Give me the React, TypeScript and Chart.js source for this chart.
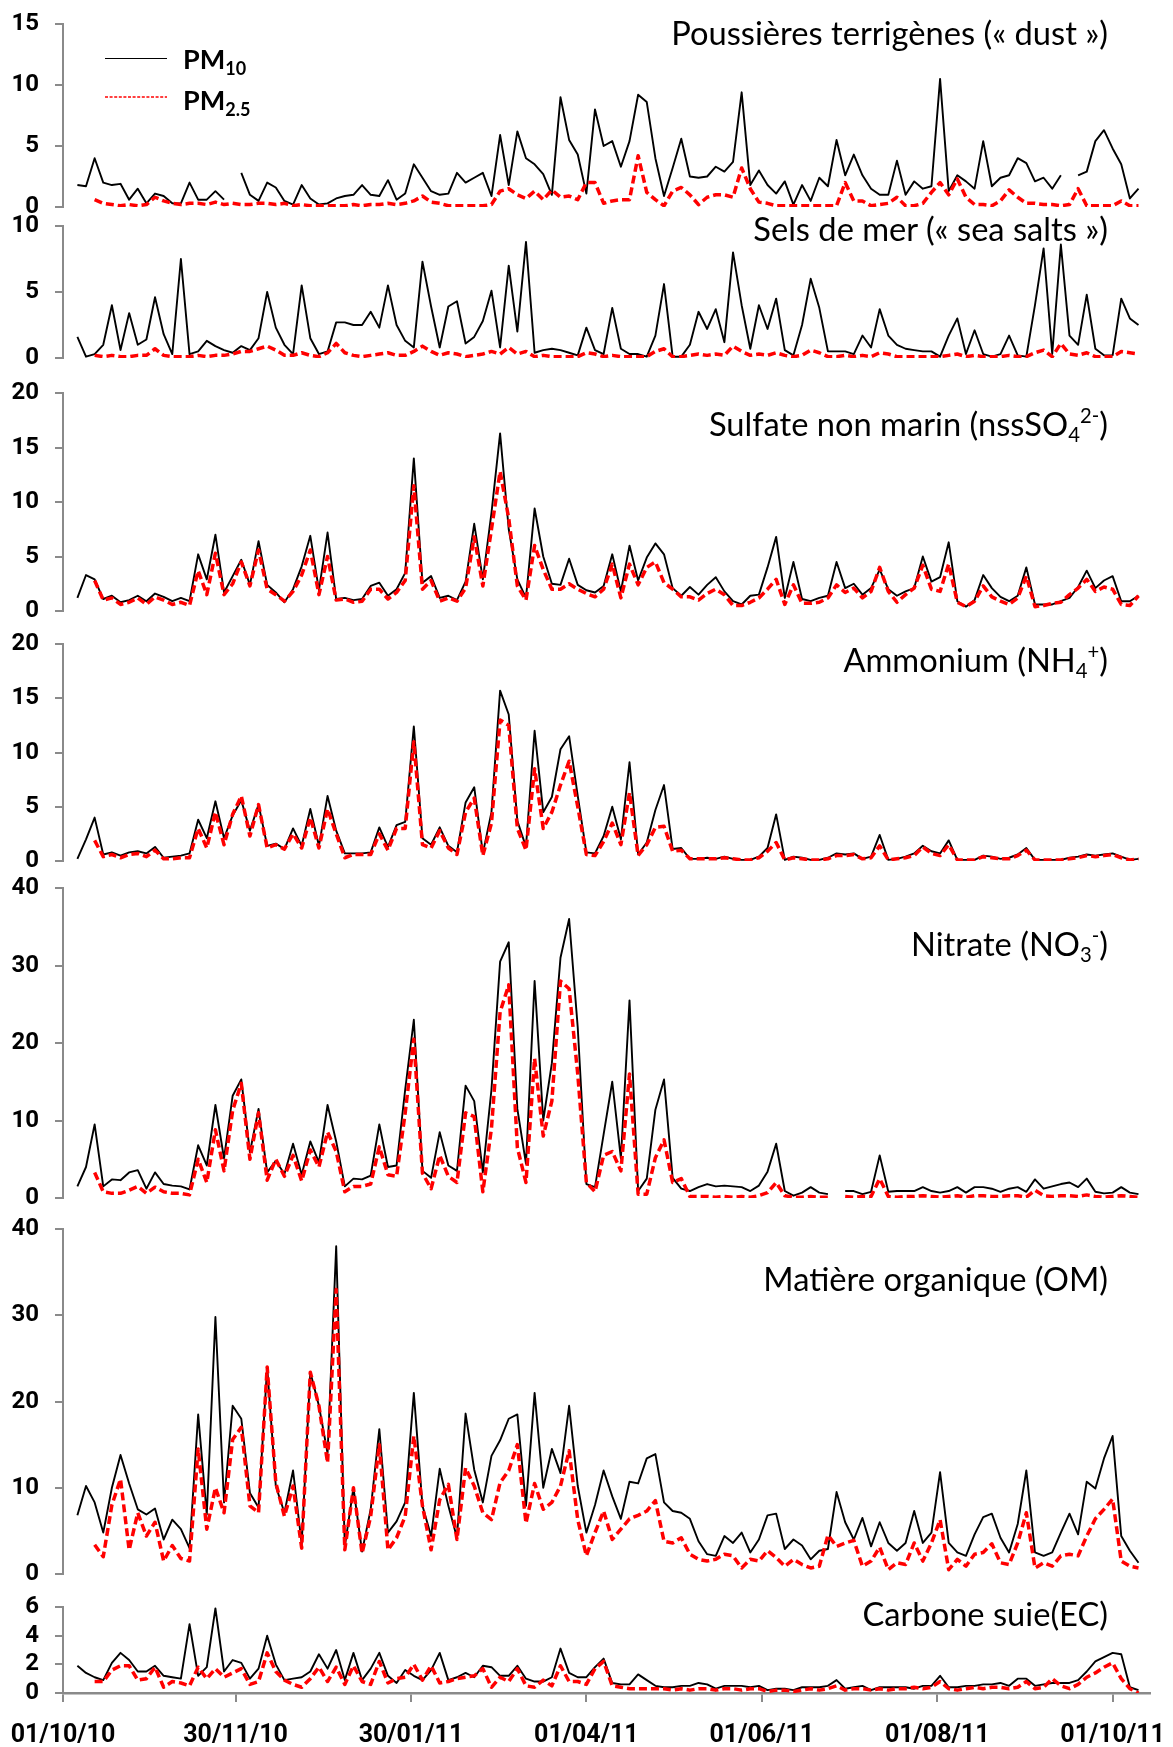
import React, { useEffect, useMemo, useRef } from 'react';
import { Chart, registerables } from 'chart.js';

Chart.register(...registerables);

// Day offsets from 01/10/2010
const DAYS = [
  5, 8, 11, 14, 17, 20, 23, 26, 29, 32,
  35, 38, 41, 44, 47, 50, 53, 56, 59, 62,
  65, 68, 71, 74, 77, 80, 83, 86, 89, 92,
  95, 98, 101, 104, 107, 110, 113, 116, 119, 122,
  125, 128, 131, 134, 137, 140, 143, 146, 149, 152,
  155, 158, 161, 164, 167, 170, 173, 176, 179, 182,
  185, 188, 191, 194, 197, 200, 203, 206, 209, 212,
  215, 218, 221, 224, 227, 230, 233, 236, 239, 242,
  245, 248, 251, 254, 257, 260, 263, 266, 269, 272,
  275, 278, 281, 284, 287, 290, 293, 296, 299, 302,
  305, 308, 311, 314, 317, 320, 323, 326, 329, 332,
  335, 338, 341, 344, 347, 350, 353, 356, 359, 362,
  365, 368, 371, 374,
];

const TICK_DAYS = [0, 60, 121, 182, 243, 304, 365];
const TICK_LABELS = ['01/10/10', '30/11/10', '30/01/11', '01/04/11', '01/06/11', '01/08/11', '01/10/11'];
const X_MAX = 378;

const DUST_PM10 = [
  1.8, 1.7, 4.0, 2.0, 1.8, 1.9, 0.6, 1.5, 0.3, 1.1,
  0.9, 0.3, 0.3, 2.0, 0.6, 0.6, 1.3, 0.6, null, 2.8,
  1.0, 0.5, 2.0, 1.6, 0.5, 0.2, 1.8, 0.7, 0.2, 0.3,
  0.7, 0.9, 1.0, 1.8, 1.0, 0.9, 2.2, 0.6, 1.1, 3.5,
  2.4, 1.3, 1.0, 1.1, 2.8, 2.0, 2.4, 2.8, 0.9, 5.9,
  1.8, 6.2, 4.0, 3.5, 2.7, 1.0, 9.0, 5.5, 4.3, 1.1,
  8.0, 5.0, 5.4, 3.3, 5.4, 9.2, 8.6, 4.0, 0.9, 3.2,
  5.6, 2.5, 2.4, 2.5, 3.3, 2.9, 3.7, 9.4, 1.8, 3.0,
  1.8, 1.1, 2.1, 0.2, 1.8, 0.5, 2.4, 1.7, 5.5, 2.6,
  4.3, 2.6, 1.5, 1.0, 1.0, 3.8, 1.0, 2.1, 1.5, 1.7,
  10.5, 1.3, 2.6, 2.1, 1.5, 5.4, 1.7, 2.4, 2.6, 4.0,
  3.6, 2.1, 2.4, 1.5, 2.6, null, 2.6, 2.9, 5.4, 6.3,
  4.8, 3.5, 0.7, 1.5,
];
const DUST_PM25 = [
  null, null, 0.6, 0.3, 0.2, 0.1, 0.2, 0.1, 0.2, 0.8,
  0.5, 0.3, 0.2, 0.3, 0.3, 0.2, 0.4, 0.2, 0.3, 0.2,
  0.2, 0.3, 0.3, 0.2, 0.3, 0.1, 0.2, 0.1, 0.1, 0.1,
  0.1, 0.1, 0.2, 0.1, 0.2, 0.2, 0.3, 0.2, 0.3, 0.5,
  0.9, 0.4, 0.3, 0.1, 0.1, 0.1, 0.1, 0.1, 0.2, 1.3,
  1.5, 1.0, 0.7, 1.3, 0.6, 1.4, 0.8, 0.9, 0.6, 2.0,
  2.0, 0.3, 0.5, 0.6, 0.6, 4.2, 1.2, 0.6, 0.1, 1.3,
  1.6, 1.0, 0.2, 0.8, 1.0, 1.0, 0.8, 3.2, 1.5, 0.4,
  0.3, 0.1, 0.1, 0.1, 0.1, 0.1, 0.1, 0.1, 0.1, 2.0,
  0.5, 0.5, 0.1, 0.2, 0.3, 0.8, 0.1, 0.1, 0.3, 1.2,
  2.0, 1.0, 2.3, 0.8, 0.2, 0.2, 0.1, 0.5, 1.4, 0.8,
  0.3, 0.3, 0.2, 0.2, 0.1, 0.2, 1.5, 0.1, 0.1, 0.1,
  0.1, 0.5, 0.1, 0.1,
];

const SEA_PM10 = [
  1.6, 0.1, 0.3, 1.0, 4.0, 0.6, 3.4, 1.0, 1.4, 4.6,
  1.8, 0.3, 7.5, 0.3, 0.5, 1.3, 0.9, 0.6, 0.4, 0.9,
  0.6, 1.5, 5.0, 2.3, 1.0, 0.3, 5.5, 1.5, 0.3, 0.5,
  2.7, 2.7, 2.5, 2.5, 3.5, 2.3, 5.5, 2.5, 1.3, 0.8,
  7.3, 3.9, 0.8, 3.9, 4.3, 1.1, 1.6, 2.8, 5.1, 0.8,
  7.0, 2.0, 8.8, 0.4, 0.6, 0.7, 0.6, 0.4, 0.2, 2.3,
  0.6, 0.3, 3.8, 0.7, 0.3, 0.3, 0.1, 1.7, 5.6, 0.1,
  0.1, 1.0, 3.5, 2.2, 3.7, 1.2, 8.0, 4.0, 0.7, 4.0,
  2.2, 4.5, 0.6, 0.2, 2.5, 6.0, 3.8, 0.5, 0.5, 0.5,
  0.3, 1.7, 0.8, 3.7, 1.7, 1.0, 0.7, 0.6, 0.5, 0.5,
  0.1, 1.7, 3.0, 0.3, 2.1, 0.3, 0.1, 0.3, 1.7, 0.2,
  0.1, 4.0, 8.3, 0.3, 8.6, 1.7, 1.0, 4.8, 0.7, 0.2,
  0.2, 4.5, 3.0, 2.5,
];
const SEA_PM25 = [
  null, null, 0.2, 0.1, 0.2, 0.1, 0.1, 0.2, 0.2, 0.7,
  0.2, 0.1, 0.1, 0.1, 0.2, 0.1, 0.2, 0.2, 0.3, 0.5,
  0.5, 0.7, 0.9, 0.6, 0.2, 0.2, 0.4, 0.2, 0.1, 0.4,
  1.1, 0.4, 0.2, 0.1, 0.2, 0.3, 0.4, 0.2, 0.2, 0.5,
  0.9, 0.5, 0.2, 0.4, 0.3, 0.1, 0.2, 0.3, 0.5, 0.3,
  0.8, 0.3, 0.5, 0.1, 0.2, 0.1, 0.1, 0.1, 0.1, 0.4,
  0.3, 0.1, 0.2, 0.1, 0.1, 0.1, 0.1, 0.5, 0.7, 0.1,
  0.1, 0.2, 0.3, 0.2, 0.3, 0.2, 0.9, 0.5, 0.2, 0.3,
  0.2, 0.4, 0.2, 0.1, 0.2, 0.6, 0.4, 0.1, 0.1, 0.2,
  0.1, 0.2, 0.1, 0.4, 0.3, 0.1, 0.1, 0.1, 0.1, 0.1,
  0.1, 0.2, 0.3, 0.1, 0.2, 0.1, 0.1, 0.1, 0.2, 0.1,
  0.1, 0.4, 0.6, 0.1, 1.1, 0.3, 0.2, 0.4, 0.1, 0.1,
  0.1, 0.5, 0.4, 0.3,
];

const SULF_PM10 = [
  1.2, 3.3, 2.9, 1.1, 1.4, 0.8, 1.0, 1.4, 0.9, 1.6,
  1.3, 0.9, 1.2, 0.9, 5.2, 2.9, 7.0, 1.7, 3.2, 4.7,
  2.4, 6.4, 2.4, 1.7, 0.8, 2.0, 4.1, 6.9, 1.9, 7.2,
  1.1, 1.2, 1.0, 1.1, 2.3, 2.6, 1.4, 2.0, 3.5, 14.0,
  2.6, 3.2, 1.2, 1.4, 1.0, 2.7, 8.0, 2.9, 9.0, 16.3,
  7.5, 2.9, 1.2, 9.4, 5.0, 2.5, 2.4, 4.8, 2.4, 1.9,
  1.7, 2.3, 5.2, 1.8, 6.0, 2.8, 4.9, 6.2, 5.2, 2.1,
  1.4, 2.2, 1.5, 2.4, 3.1, 1.8, 0.9, 0.6, 1.4, 1.5,
  4.0, 6.8, 1.2, 4.5, 1.1, 0.9, 1.2, 1.4, 4.5, 2.1,
  2.5, 1.5, 2.1, 3.8, 2.0, 1.4, 1.8, 2.1, 5.0, 2.7,
  3.1, 6.3, 0.9, 0.4, 1.0, 3.3, 2.1, 1.3, 0.9, 1.4,
  4.0, 0.6, 0.6, 0.6, 0.9, 1.2, 2.2, 3.7, 2.1, 2.8,
  3.2, 0.9, 0.9, 1.4,
];
const SULF_PM25 = [
  null, null, 2.8, 1.0, 1.2, 0.6, 0.8, 1.2, 0.6, 1.3,
  1.0, 0.6, 0.8, 0.5, 3.7, 1.5, 5.3, 1.5, 2.5, 4.5,
  2.3, 5.6, 2.0, 1.5, 0.9, 1.8, 3.3, 5.6, 1.5, 5.0,
  1.0, 1.1, 0.8, 0.9, 2.0, 2.0, 1.1, 1.7, 2.8, 11.5,
  2.0, 2.8, 0.9, 1.2, 0.9, 2.1, 6.8, 2.3, 7.5, 12.8,
  8.5, 2.3, 1.0, 6.0, 3.8, 2.0, 2.0, 2.5, 2.0, 1.6,
  1.3, 2.0, 4.3, 1.2, 4.3, 2.4, 4.0, 4.5, 2.6, 2.0,
  1.3, 1.3, 1.0, 1.6, 2.0, 1.5, 0.5, 0.5, 0.8, 1.2,
  2.0, 2.9, 0.6, 2.4, 0.7, 0.7, 0.8, 1.2, 2.4, 1.7,
  2.1, 1.2, 1.8, 4.0, 1.8, 0.8, 1.5, 2.1, 4.2, 2.0,
  1.8, 4.3, 0.8, 0.4, 0.9, 2.3, 1.3, 0.9, 0.6, 1.2,
  3.2, 0.4, 0.5, 0.7, 0.8, 1.5, 2.1, 2.9, 1.8, 2.2,
  2.0, 0.6, 0.5, 1.4,
];

const AMM_PM10 = [
  0.2, 2.0, 4.0, 0.6, 0.8, 0.5, 0.8, 0.9, 0.7, 1.3,
  0.3, 0.4, 0.5, 0.7, 3.8, 2.1, 5.5, 2.1, 4.2, 5.6,
  2.8, 5.2, 1.4, 1.6, 1.1, 3.0, 1.4, 4.8, 1.4, 6.0,
  2.8, 0.7, 0.7, 0.7, 0.8, 3.1, 1.3, 3.3, 3.6, 12.4,
  2.1, 1.5, 3.1, 1.4, 0.8, 5.4, 6.8, 0.7, 4.5, 15.7,
  13.5, 3.7, 1.3, 12.0, 4.5, 5.9, 10.3, 11.5, 6.0, 0.8,
  0.7, 2.3, 5.0, 2.0, 9.1, 0.6, 1.7, 4.7, 7.0, 1.1,
  1.2, 0.2, 0.2, 0.3, 0.2, 0.4, 0.2, 0.1, 0.1, 0.4,
  1.2, 4.3, 0.1, 0.4, 0.3, 0.1, 0.1, 0.3, 0.7, 0.6,
  0.7, 0.2, 0.4, 2.4, 0.1, 0.2, 0.4, 0.7, 1.4, 0.9,
  0.7, 1.9, 0.1, 0.1, 0.1, 0.5, 0.4, 0.2, 0.3, 0.6,
  1.2, 0.1, 0.1, 0.1, 0.1, 0.3, 0.4, 0.6, 0.5, 0.6,
  0.7, 0.4, 0.1, 0.2,
];
const AMM_PM25 = [
  null, null, 1.9, 0.4, 0.6, 0.3, 0.6, 0.7, 0.4, 1.0,
  0.2, 0.2, 0.3, 0.3, 3.0, 1.2, 4.5, 1.5, 4.3, 6.0,
  2.3, 5.2, 1.2, 1.5, 1.1, 2.5, 1.2, 4.0, 1.2, 4.8,
  2.5, 0.3, 0.6, 0.6, 0.6, 2.5, 1.0, 3.0, 3.0, 11.0,
  1.5, 1.2, 2.8, 1.2, 0.6, 4.5, 5.8, 0.5, 3.5, 13.0,
  12.5, 3.0, 1.0, 8.5, 3.0, 4.5, 7.0, 9.2, 5.0, 0.6,
  0.5, 1.8, 3.5, 1.5, 6.3, 0.5, 1.5, 3.1, 3.2, 0.9,
  1.0, 0.2, 0.2, 0.2, 0.2, 0.3, 0.2, 0.1, 0.1, 0.3,
  0.9, 1.7, 0.1, 0.3, 0.2, 0.1, 0.1, 0.2, 0.5, 0.5,
  0.6, 0.2, 0.3, 1.4, 0.1, 0.2, 0.3, 0.5, 1.3, 0.7,
  0.5, 1.5, 0.1, 0.1, 0.1, 0.4, 0.3, 0.2, 0.2, 0.5,
  1.0, 0.1, 0.1, 0.1, 0.1, 0.2, 0.3, 0.5, 0.4, 0.5,
  0.6, 0.3, 0.1, 0.2,
];

const NIT_PM10 = [
  1.5, 4.0, 9.5, 1.5, 2.4, 2.3, 3.3, 3.6, 1.2, 3.3,
  1.8, 1.6, 1.5, 1.1, 6.8, 4.2, 12.0, 5.1, 13.2, 15.3,
  5.9, 11.5, 3.3, 4.8, 3.1, 7.0, 3.0, 7.3, 4.6, 12.0,
  7.3, 1.5, 2.5, 2.4, 2.9, 9.5, 4.0, 4.2, 14.0, 23.0,
  3.5, 2.6, 8.5, 4.2, 3.5, 14.5, 12.5, 3.3, 14.0, 30.5,
  33.0, 11.5, 4.4, 28.0, 10.0, 17.4, 31.0, 36.0, 22.0, 1.8,
  1.4, 8.2, 15.0, 5.1, 25.5, 0.9, 2.5, 11.4, 15.3, 2.6,
  1.2, 0.9, 1.4, 1.8, 1.5, 1.6, 1.5, 1.4, 0.9, 1.6,
  3.4, 7.0, 0.9, 0.3, 0.7, 1.4, 0.7, 0.5, null, 0.9,
  0.9, 0.5, 0.8, 5.5, 0.8, 0.9, 0.9, 0.9, 1.4, 0.9,
  0.7, 0.9, 1.4, 0.7, 1.4, 1.4, 1.2, 0.8, 1.2, 1.4,
  0.8, 2.4, 1.2, 1.5, 1.8, 2.0, 1.4, 2.5, 0.8, 0.6,
  0.7, 1.4, 0.7, 0.5,
];
const NIT_PM25 = [
  null, null, 3.3, 0.8, 0.6, 0.6, 1.0, 1.5, 0.6, 1.4,
  0.8, 0.6, 0.6, 0.4, 5.0, 2.0, 8.8, 3.5, 11.3, 14.8,
  5.0, 11.0, 2.3, 5.0, 2.8, 5.5, 2.2, 6.2, 4.0, 8.5,
  6.0, 0.8, 1.5, 1.5, 1.8, 6.6, 3.0, 2.8, 11.0, 20.5,
  3.2, 1.2, 5.5, 2.8, 2.0, 11.0, 10.5, 0.8, 9.0, 24.0,
  27.5, 6.5, 2.0, 18.0, 8.0, 12.5, 28.0, 27.0, 16.0, 2.0,
  0.8, 5.5, 6.0, 3.5, 16.0, 0.5, 0.5, 5.2, 7.5, 2.0,
  2.5, 0.2, 0.2, 0.2, 0.1, 0.2, 0.1, 0.2, 0.1, 0.3,
  0.7, 2.0, 0.3, 0.1, 0.1, 0.2, 0.1, 0.1, null, 0.2,
  0.1, 0.2, 0.2, 2.5, 0.2, 0.1, 0.2, 0.2, 0.3, 0.2,
  0.1, 0.2, 0.3, 0.1, 0.3, 0.3, 0.2, 0.2, 0.3, 0.3,
  0.1, 1.0, 0.3, 0.2, 0.3, 0.3, 0.2, 0.4, 0.2, 0.1,
  0.2, 0.3, 0.2, 0.1,
];

const OM_PM10 = [
  6.8, 10.2, 8.3, 4.8, 10.0, 13.8, 10.5, 7.5, 6.9, 7.6,
  4.0, 6.3, 5.2, 3.0, 18.5, 6.9, 29.8, 8.3, 19.5, 18.0,
  9.4, 7.7, 24.0, 10.2, 7.1, 12.0, 3.5, 23.4, 19.5, 14.0,
  38.0, 3.2, 10.0, 2.6, 7.5, 16.8, 4.8, 6.1, 8.3, 21.0,
  7.9, 4.4, 12.2, 7.9, 4.2, 18.6, 12.1, 8.3, 13.7, 15.5,
  18.0, 18.5, 7.9, 21.0, 10.0, 14.5, 11.7, 19.5, 10.2, 4.8,
  8.0, 12.0, 9.0, 6.4, 10.7, 10.5, 13.4, 13.9, 8.3, 7.3,
  7.1, 6.4, 3.8, 2.3, 2.1, 4.4, 3.6, 4.8, 2.5, 4.0,
  6.8, 7.0, 2.9, 4.0, 3.3, 1.7, 2.7, 2.9, 9.5, 6.0,
  4.0, 6.5, 3.2, 6.0, 3.6, 2.7, 3.6, 7.3, 3.6, 4.8,
  11.8, 3.6, 2.5, 2.1, 4.6, 6.6, 7.0, 4.2, 2.5, 5.8,
  12.0, 2.5, 2.1, 2.5, 4.8, 7.0, 4.6, 10.7, 9.9, 13.4,
  16.0, 4.4, 2.7, 1.3,
];
const OM_PM25 = [
  null, null, 3.4, 2.0, 8.0, 11.0, 2.8, 7.1, 4.4, 6.0,
  1.5, 3.3, 1.8, 1.5, 14.5, 5.2, 10.0, 7.1, 15.6, 17.0,
  7.9, 7.1, 24.0, 10.6, 6.7, 10.2, 3.0, 23.4, 19.5, 12.9,
  33.0, 2.8, 10.0, 2.4, 6.7, 15.0, 2.8, 4.2, 6.7, 16.0,
  7.9, 2.8, 8.6, 10.4, 4.0, 12.3, 10.2, 7.1, 6.3, 10.6,
  12.0, 15.0, 5.9, 10.5, 7.5, 8.3, 10.2, 14.3, 6.3, 2.1,
  4.8, 7.3, 4.0, 5.2, 6.4, 6.8, 7.3, 8.5, 3.8, 3.6,
  4.2, 2.3, 1.7, 1.5, 1.7, 2.3, 2.1, 0.7, 1.7, 1.5,
  2.7, 1.9, 0.9, 1.7, 1.1, 0.7, 0.9, 4.5, 3.2, 3.6,
  3.9, 0.9, 1.5, 3.1, 0.5, 1.3, 1.1, 3.6, 1.5, 3.6,
  6.3, 0.5, 1.7, 0.9, 2.3, 2.5, 3.5, 1.3, 1.1, 3.6,
  7.1, 0.7, 1.3, 0.9, 2.1, 2.3, 2.1, 4.4, 6.4, 7.5,
  8.7, 1.5, 0.9, 0.7,
];

const EC_PM10 = [
  1.9, 1.4, 1.1, 0.9, 2.1, 2.8, 2.3, 1.5, 1.5, 1.9,
  1.2, 1.1, 1.0, 4.8, 1.2, 1.8, 5.9, 1.5, 2.3, 2.1,
  1.0, 1.7, 4.0, 2.0, 0.9, 1.0, 1.1, 1.5, 2.7, 1.7,
  3.0, 0.9, 2.8, 0.9, 1.7, 2.8, 1.2, 0.7, 1.6, 1.2,
  0.9, 1.6, 2.8, 0.9, 1.1, 1.4, 1.1, 1.9, 1.8, 1.2,
  1.2, 1.9, 1.0, 0.8, 0.8, 1.1, 3.1, 1.4, 1.1, 1.1,
  1.8, 2.4, 0.7, 0.6, 0.6, 1.3, 0.9, 0.5, 0.4, 0.4,
  0.5, 0.5, 0.7, 0.6, 0.3, 0.5, 0.5, 0.5, 0.4, 0.5,
  0.2, 0.3, 0.3, 0.2, 0.4, 0.4, 0.4, 0.5, 0.9, 0.3,
  0.4, 0.5, 0.2, 0.4, 0.4, 0.4, 0.4, 0.3, 0.5, 0.5,
  1.2, 0.4, 0.4, 0.5, 0.5, 0.6, 0.6, 0.7, 0.5, 1.0,
  1.0, 0.5, 0.6, 0.7, 0.7, 0.7, 0.9, 1.5, 2.2, 2.5,
  2.8, 2.7, 0.4, 0.2,
];
const EC_PM25 = [
  null, null, 0.8, 0.8, 1.6, 1.9, 1.9, 0.9, 1.0, 1.8,
  0.4, 0.8, 0.7, 0.5, 1.8, 1.0, 1.7, 1.1, 1.4, 1.7,
  0.6, 0.8, 2.8, 1.5, 0.9, 0.6, 0.4, 1.0, 1.8, 0.8,
  1.8, 0.6, 1.9, 0.8, 0.6, 2.2, 0.7, 1.0, 1.1, 2.0,
  0.9, 1.9, 0.7, 0.8, 1.0, 1.1, 1.2, 1.7, 0.4, 1.1,
  0.8, 1.7, 0.5, 0.4, 0.9, 0.5, 1.9, 0.8, 0.8, 0.6,
  1.7, 2.2, 0.5, 0.4, 0.3, 0.3, 0.3, 0.3, 0.3, 0.2,
  0.3, 0.2, 0.3, 0.3, 0.2, 0.3, 0.3, 0.2, 0.3, 0.3,
  0.1, 0.2, 0.2, 0.1, 0.2, 0.3, 0.2, 0.3, 0.5, 0.2,
  0.3, 0.3, 0.2, 0.3, 0.2, 0.3, 0.3, 0.4, 0.3, 0.4,
  0.8, 0.3, 0.2, 0.3, 0.4, 0.3, 0.4, 0.4, 0.3, 0.4,
  0.8, 0.3, 0.4, 1.0, 0.5, 0.3, 0.6, 1.1, 1.4, 1.8,
  2.1, 1.0, 0.3, 0.0,
];

const subStyle: React.CSSProperties = { fontSize: '0.62em', lineHeight: 0, position: 'relative', top: '0.28em', verticalAlign: 'baseline' };
const supStyle: React.CSSProperties = { fontSize: '0.62em', lineHeight: 0, position: 'relative', top: '-0.62em', verticalAlign: 'baseline' };

type PanelDef = {
  key: string;
  title: React.ReactNode;
  pm10: (number | null)[];
  pm25: (number | null)[];
  max: number;
  step: number;
  top: number;
  bottom: number;
  baseline: number;
};

const PANELS: PanelDef[] = [
  { key: 'dust', title: <>Poussières terrigènes (« dust »)</>, pm10: DUST_PM10, pm25: DUST_PM25, max: 15, step: 5, top: 24, bottom: 207, baseline: 46 },
  { key: 'sea', title: <>Sels de mer (« sea salts »)</>, pm10: SEA_PM10, pm25: SEA_PM25, max: 10, step: 5, top: 226, bottom: 358, baseline: 242 },
  { key: 'so4', title: <>Sulfate non marin (nssSO<span style={subStyle}>4</span><span style={supStyle}>2-</span>)</>, pm10: SULF_PM10, pm25: SULF_PM25, max: 20, step: 5, top: 393, bottom: 611, baseline: 437 },
  { key: 'nh4', title: <>Ammonium (NH<span style={subStyle}>4</span><span style={supStyle}>+</span>)</>, pm10: AMM_PM10, pm25: AMM_PM25, max: 20, step: 5, top: 644, bottom: 861, baseline: 673 },
  { key: 'no3', title: <>Nitrate (NO<span style={subStyle}>3</span><span style={supStyle}>-</span>)</>, pm10: NIT_PM10, pm25: NIT_PM25, max: 40, step: 10, top: 888, bottom: 1198, baseline: 957 },
  { key: 'om', title: <>Matière organique (OM)</>, pm10: OM_PM10, pm25: OM_PM25, max: 40, step: 10, top: 1229, bottom: 1574, baseline: 1292 },
  { key: 'ec', title: <>Carbone suie(EC)</>, pm10: EC_PM10, pm25: EC_PM25, max: 6, step: 2, top: 1607, bottom: 1693, baseline: 1627 },
];

const PAGE_W = 1173;
const PAGE_H = 1747;
const AXIS_LEFT = 63;
const AREA_RIGHT = 1150;
const AXIS_GRAY = '#8a8a8a';
const TICK_FONT = 'Roboto, "Liberation Sans", sans-serif';

function Panel({ p, last }: { p: PanelDef; last: boolean }) {
  const ref = useRef<HTMLCanvasElement>(null);
  const padTop = 14;
  const padBottom = last ? 0 : 14;
  const canvasTop = p.top - padTop;
  const height = last ? PAGE_H - canvasTop : p.bottom - p.top + padTop + padBottom;

  useEffect(() => {
    if (!ref.current) return;
    const toPts = (arr: (number | null)[]) => DAYS.map((d, i) => ({ x: d, y: arr[i] }));
    const chart = new Chart(ref.current, {
      type: 'line',
      data: {
        datasets: [
          {
            label: 'PM2.5',
            data: toPts(p.pm25) as any,
            borderColor: '#ff0000',
            borderWidth: 3.5,
            borderDash: [8, 4],
            borderJoinStyle: 'round',
            pointRadius: 0,
            fill: false,
            tension: 0,
            spanGaps: false,
          },
          {
            label: 'PM10',
            data: toPts(p.pm10) as any,
            borderColor: '#000000',
            borderWidth: 1.9,
            borderJoinStyle: 'round',
            pointRadius: 0,
            fill: false,
            tension: 0,
            spanGaps: false,
          },
        ],
      },
      options: {
        animation: false,
        responsive: false,
        maintainAspectRatio: false,
        events: [],
        layout: { padding: { left: 0, right: PAGE_W - AREA_RIGHT, top: padTop, bottom: padBottom } },
        plugins: { legend: { display: false }, tooltip: { enabled: false }, title: { display: false } },
        scales: {
          x: {
            type: 'linear',
            min: 0,
            max: X_MAX,
            display: last,
            afterBuildTicks: (scale: any) => {
              scale.ticks = TICK_DAYS.map((v) => ({ value: v }));
            },
            afterFit: (scale: any) => {
              if (last) scale.height = PAGE_H - p.bottom;
              scale.paddingLeft = 0;
              scale.paddingRight = 0;
            },
            grid: { display: true, drawOnChartArea: false, drawTicks: true, tickLength: 9, color: AXIS_GRAY, lineWidth: 2 },
            border: { display: true, color: AXIS_GRAY, width: 2.5 },
            ticks: {
              autoSkip: false,
              maxRotation: 0,
              minRotation: 0,
              padding: 19,
              color: '#000',
              font: { family: TICK_FONT, weight: 'bold', size: 25 },
              callback: (_v: any, i: number) => TICK_LABELS[i],
            },
          },
          y: {
            type: 'linear',
            min: 0,
            max: p.max,
            afterFit: (scale: any) => {
              scale.width = AXIS_LEFT;
              scale.paddingTop = 0;
              scale.paddingBottom = 0;
            },
            grid: { display: true, drawOnChartArea: false, drawTicks: true, tickLength: 8, color: AXIS_GRAY, lineWidth: 2 },
            border: { display: true, color: AXIS_GRAY, width: 2 },
            ticks: {
              stepSize: p.step,
              autoSkip: false,
              padding: 16,
              color: '#000',
              font: { family: TICK_FONT, weight: 'bold', size: 24 },
            },
          },
        },
      } as any,
    });
    return () => chart.destroy();
  }, []);

  return (
    <canvas
      ref={ref}
      width={PAGE_W}
      height={height}
      style={{ position: 'absolute', left: 0, top: canvasTop, width: PAGE_W, height }}
    />
  );
}

const TITLE_FONT = 'Lato, "Open Sans", sans-serif';
const TITLE_TARGET_WIDTH = 437;
const TITLE_RIGHT = 1108;

export default function App() {
  const titleSize = useMemo(() => {
    try {
      const ctx = document.createElement('canvas').getContext('2d');
      if (!ctx) return 30;
      ctx.font = `100px ${TITLE_FONT}`;
      const w = ctx.measureText('Poussières terrigènes (« dust »)').width;
      if (!w) return 30;
      return (100 * TITLE_TARGET_WIDTH) / w;
    } catch (e) {
      return 30;
    }
  }, []);

  const legendFont = 27;
  const legendSub = 18;

  return (
    <div style={{ position: 'absolute', left: 0, top: 0, width: PAGE_W, height: PAGE_H, background: '#ffffff', overflow: 'hidden' }}>
      {PANELS.map((p, i) => (
        <Panel key={p.key} p={p} last={i === PANELS.length - 1} />
      ))}
      {PANELS.map((p) => (
        <div
          key={'title-' + p.key}
          style={{
            position: 'absolute',
            right: PAGE_W - TITLE_RIGHT,
            top: p.baseline - 0.887 * titleSize,
            fontFamily: TITLE_FONT,
            fontSize: titleSize,
            lineHeight: 1,
            whiteSpace: 'nowrap',
            color: '#000',
          }}
        >
          {p.title}
        </div>
      ))}
      {/* Legend */}
      <div style={{ position: 'absolute', left: 105, top: 58, width: 62, height: 0, borderTop: '1.6px solid #000' }} />
      <svg style={{ position: 'absolute', left: 105, top: 95 }} width={62} height={4}>
        <line x1={0} y1={2} x2={62} y2={2} stroke="#ff0000" strokeWidth={1.6} strokeDasharray="3 1.6" />
      </svg>
      <div style={{ position: 'absolute', left: 183, top: 69 - 0.887 * legendFont, fontFamily: TITLE_FONT, fontWeight: 700, fontSize: legendFont, lineHeight: 1, whiteSpace: 'nowrap', color: '#000' }}>
        PM<span style={{ fontSize: legendSub, lineHeight: 0, position: 'relative', top: '0.35em' }}>10</span>
      </div>
      <div style={{ position: 'absolute', left: 183, top: 110 - 0.887 * legendFont, fontFamily: TITLE_FONT, fontWeight: 700, fontSize: legendFont, lineHeight: 1, whiteSpace: 'nowrap', color: '#000' }}>
        PM<span style={{ fontSize: legendSub, lineHeight: 0, position: 'relative', top: '0.35em' }}>2.5</span>
      </div>
    </div>
  );
}
